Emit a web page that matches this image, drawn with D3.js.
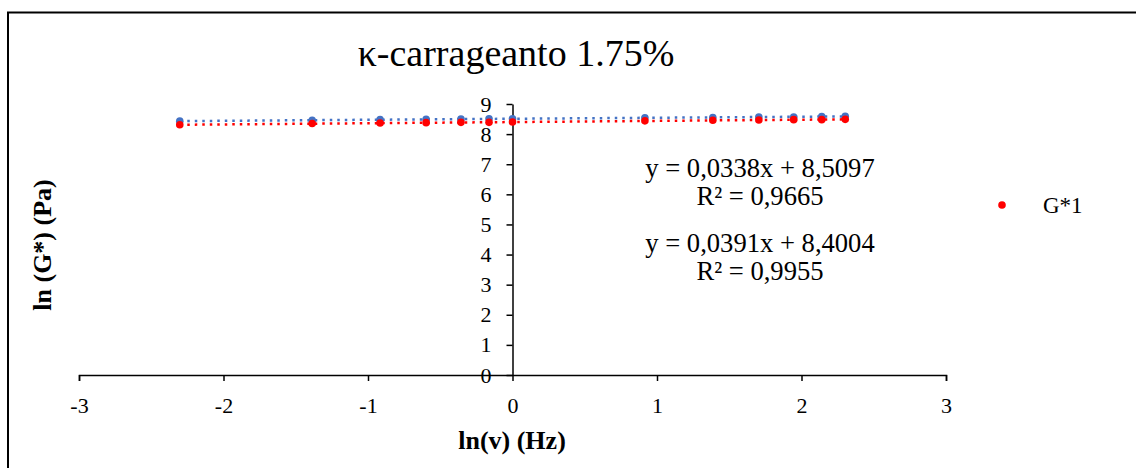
<!DOCTYPE html>
<html>
<head>
<meta charset="utf-8">
<script src="https://cdnjs.cloudflare.com/ajax/libs/d3/7.8.5/d3.min.js"></script>
<style>
  body { margin: 0; background: #fff; }
</style>
</head>
<body>
<svg id="chart" width="1136" height="468"></svg>
<script>
// frequencies (Hz) -> ln(v)
var freq = [0.1, 0.25, 0.4, 0.55, 0.7, 0.85, 1, 2.5, 4, 5.5, 7, 8.5, 10];
var lnG1 = [8.31, 8.35, 8.37, 8.38, 8.39, 8.39, 8.40, 8.44, 8.46, 8.47, 8.48, 8.48, 8.49];
var lnG2 = [8.43, 8.46, 8.48, 8.49, 8.50, 8.51, 8.51, 8.54, 8.55, 8.57, 8.57, 8.58, 8.59];
// trendline coefficients (slope, intercept) as printed on the chart
var fit1 = [0.0391, 8.4004];
var fit2 = [0.0338, 8.5097];
var xTicks = [-3, -2, -1, 0, 1, 2, 3];
var yTicks = [0, 1, 2, 3, 4, 5, 6, 7, 8, 9];

var FONT = "'Liberation Serif', 'Times New Roman', serif";
var svg = d3.select("#chart").attr("font-family", FONT);

// outer frame
svg.append("rect")
    .attr("x", 8).attr("y", 12.5)
    .attr("width", 1140).attr("height", 470)
    .attr("fill", "none").attr("stroke", "#000").attr("stroke-width", 2);

var x = d3.scaleLinear().domain([-3, 3]).range([79, 946]);
var y = d3.scaleLinear().domain([0, 9]).range([375, 104]);

// x axis at y=0
var xAxis = svg.append("g")
    .attr("transform", "translate(0," + y(0) + ")")
    .call(d3.axisBottom(x).tickValues(xTicks).tickSize(6).tickFormat(function(d) { return String(d); }));
xAxis.attr("font-family", FONT);
xAxis.select(".domain").attr("stroke", "#000").attr("stroke-width", 1.5);
xAxis.selectAll(".tick line").attr("stroke", "#000").attr("stroke-width", 1.5);
xAxis.selectAll(".tick text").attr("font-size", 22).attr("y", 0).attr("dy", 0)
    .attr("transform", "translate(0,38)").attr("fill", "#000");

// y axis at x=0
var yAxis = svg.append("g")
    .attr("transform", "translate(" + x(0) + ",0)")
    .call(d3.axisLeft(y).tickValues(yTicks).tickSize(6).tickSizeOuter(0).tickFormat(function(d) { return String(d); }));
yAxis.attr("font-family", FONT);
yAxis.select(".domain").attr("stroke", "#000").attr("stroke-width", 1.5);
yAxis.selectAll(".tick line").attr("stroke", "#000").attr("stroke-width", 1.5);
yAxis.selectAll(".tick text").attr("font-size", 22).attr("x", -21).attr("fill", "#000");

var lnv = freq.map(function(f) { return Math.log(f); });
var xmin = d3.min(lnv), xmax = d3.max(lnv);

// dotted trendlines
function trend(fit, color) {
    svg.append("line")
        .attr("x1", x(xmin)).attr("y1", y(fit[0] * xmin + fit[1]))
        .attr("x2", x(xmax)).attr("y2", y(fit[0] * xmax + fit[1]))
        .attr("stroke", color).attr("stroke-width", 2.5)
        .attr("stroke-dasharray", "2.5,5");
}
trend(fit2, "#4472C4");
trend(fit1, "#FF0000");

// points
svg.selectAll(".p2").data(lnv).enter().append("circle")
    .attr("class", "p2")
    .attr("cx", function(d) { return x(d); })
    .attr("cy", function(d, i) { return y(lnG2[i]); })
    .attr("r", 3.8).attr("fill", "#4472C4");
svg.selectAll(".p1").data(lnv).enter().append("circle")
    .attr("class", "p1")
    .attr("cx", function(d) { return x(d); })
    .attr("cy", function(d, i) { return y(lnG1[i]); })
    .attr("r", 3.8).attr("fill", "#FF0000");

// title
svg.append("text").attr("x", 516).attr("y", 66)
    .attr("text-anchor", "middle").attr("font-size", 38)
    .text("κ-carrageanto 1.75%");

// axis titles
svg.append("text").attr("x", 512).attr("y", 449)
    .attr("text-anchor", "middle").attr("font-size", 26).attr("font-weight", "bold")
    .text("ln(v) (Hz)");
svg.append("text")
    .attr("transform", "translate(51,245) rotate(-90)")
    .attr("text-anchor", "middle").attr("font-size", 26).attr("font-weight", "bold")
    .text("ln (G*) (Pa)");

// equations
var eqs = [
    ["y = 0,0338x + 8,5097", 177],
    ["R² = 0,9665", 205],
    ["y = 0,0391x + 8,4004", 252],
    ["R² = 0,9955", 280]
];
svg.selectAll(".eq").data(eqs).enter().append("text")
    .attr("class", "eq")
    .attr("x", 760).attr("y", function(d) { return d[1]; })
    .attr("text-anchor", "middle").attr("font-size", 26.6)
    .text(function(d) { return d[0]; });

// legend
svg.append("circle").attr("cx", 1002).attr("cy", 205).attr("r", 3.8).attr("fill", "#FF0000");
svg.append("text").attr("x", 1043).attr("y", 213).attr("font-size", 23).text("G*1");
</script>
</body>
</html>
